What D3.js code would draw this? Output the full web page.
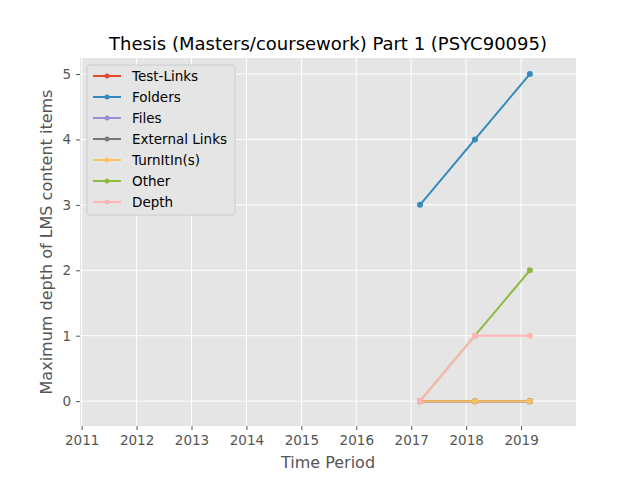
<!DOCTYPE html>
<html><head><meta charset="utf-8">
<script src="https://cdn.jsdelivr.net/npm/d3@7"></script>
<style>body{margin:0;background:#fff}svg{font-family:"DejaVu Sans",sans-serif}</style>
</head><body><svg id="c" width="640" height="480"></svg>
<script>
const xs = [2017.16, 2018.16, 2019.16];
const seriesNames = ["Test-Links","Folders","Files","External Links","TurnItIn(s)","Other","Depth"];
const seriesColors = ["#E24A33","#348ABD","#988ED5","#777777","#FBC15E","#8EBA42","#FFB5B8"];
const testLinks = [0,0,0];
const folders = [3,4,5];
const files = [0,0,0];
const externalLinks = [0,0,0];
const turnitin = [0,0,0];
const other = [0,1,2];
const depth = [0,1,1];
const seriesValues = [testLinks,folders,files,externalLinks,turnitin,other,depth];
const xTicks = [2011,2012,2013,2014,2015,2016,2017,2018,2019];
const yTicks = [0,1,2,3,4,5];

const svg = d3.select("#c");
const L=80,R=576,T=58,B=426;
const x = d3.scaleLinear().domain([2010.97,2020.0]).range([L,R]);
const y = d3.scaleLinear().domain([-0.38,5.245]).range([B,T]);
svg.append("rect").attr("x",L).attr("y",T).attr("width",R-L).attr("height",B-T).attr("fill","#E5E5E5");
const g = svg.append("g");
xTicks.forEach(t=>g.append("line").attr("x1",x(t)).attr("x2",x(t)).attr("y1",T).attr("y2",B).attr("stroke","#fff").attr("stroke-width",1));
yTicks.forEach(t=>g.append("line").attr("y1",y(t)).attr("y2",y(t)).attr("x1",L).attr("x2",R).attr("stroke","#fff").attr("stroke-width",1));
const xa = svg.append("g").attr("transform",`translate(0,${B})`).call(d3.axisBottom(x).tickValues(xTicks).tickFormat(d3.format("d")).tickSize(4).tickPadding(5));
const ya = svg.append("g").attr("transform",`translate(${L},0)`).call(d3.axisLeft(y).tickValues(yTicks).tickFormat(d3.format("d")).tickSize(4).tickPadding(5));
[xa,ya].forEach(a=>{a.attr("font-family",null).attr("font-size",null);a.select(".domain").remove();a.selectAll("line").attr("stroke","#555");a.selectAll("text").attr("fill","#555").style("font-size","13.5px").style("font-family","DejaVu Sans");});
const line = d3.line().x((d,i)=>x(xs[i])).y(d=>y(d));
seriesValues.forEach((vals,k)=>{
  svg.append("path").attr("d",line(vals)).attr("fill","none").attr("stroke",seriesColors[k]).attr("stroke-width",2);
  vals.forEach((v,i)=>svg.append("circle").attr("cx",x(xs[i])).attr("cy",y(v)).attr("r",3).attr("fill",seriesColors[k]));
});
svg.append("text").attr("x",328).attr("y",50).attr("text-anchor","middle").attr("font-size",18).text("Thesis (Masters/coursework) Part 1 (PSYC90095)");
svg.append("text").attr("x",328).attr("y",468).attr("text-anchor","middle").attr("font-size",16).attr("fill","#555").text("Time Period");
svg.append("text").attr("transform","translate(52,242) rotate(-90)").attr("text-anchor","middle").attr("font-size",16).attr("fill","#555").text("Maximum depth of LMS content items");
const lg = svg.append("g");
lg.append("rect").attr("x",87).attr("y",65).attr("width",148).attr("height",150).attr("fill","#E5E5E5").attr("stroke","#ccc").attr("rx",3);
seriesNames.forEach((n,k)=>{
  const yy=76+k*21;
  lg.append("line").attr("x1",93).attr("x2",121).attr("y1",yy).attr("y2",yy).attr("stroke",seriesColors[k]).attr("stroke-width",2);
  lg.append("circle").attr("cx",107).attr("cy",yy).attr("r",2.5).attr("fill",seriesColors[k]);
  lg.append("text").attr("x",132).attr("y",yy+5).attr("font-size",13.5).text(n);
});
</script></body></html>
